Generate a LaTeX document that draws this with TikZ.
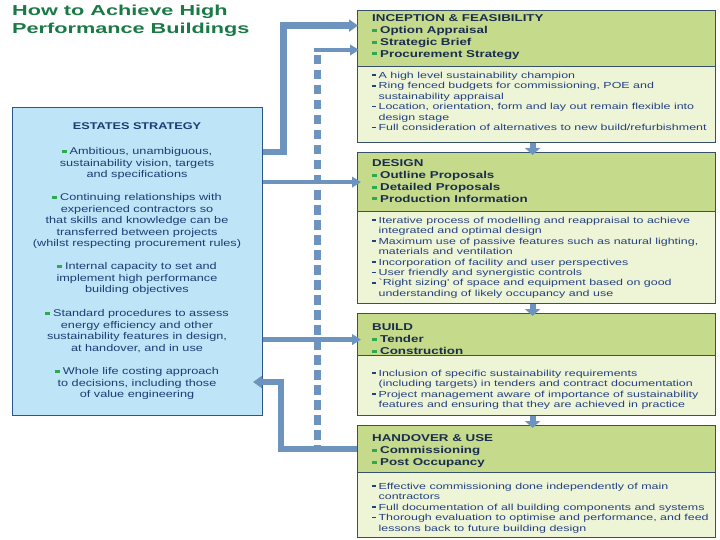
\documentclass[tikz,border=0pt]{standalone}
\usepackage{fontspec}
\setmainfont{Liberation Sans}[FakeStretch=1.3]
\newfontfamily\hdrfont{Liberation Sans}[FakeStretch=1.34]
\newfontfamily\bodyfont{Liberation Sans}[FakeStretch=1.42]
\newfontfamily\titlefont{Liberation Sans}[FakeStretch=1.5]
\usetikzlibrary{arrows.meta}
\definecolor{titlegreen}{RGB}{26,122,70}
\definecolor{stratfill}{RGB}{190,228,248}
\definecolor{stratborder}{RGB}{45,85,135}
\definecolor{strattext}{RGB}{30,60,115}
\definecolor{hdrfill}{RGB}{198,218,140}
\definecolor{bdyfill}{RGB}{238,244,214}
\definecolor{boxborder}{RGB}{55,80,105}
\definecolor{conncol}{RGB}{108,148,190}
\definecolor{hdrtext}{RGB}{25,45,80}
\definecolor{bodytext}{RGB}{35,65,130}
\definecolor{bullgreen}{RGB}{45,170,80}
\newcommand{\gb}{\textcolor{bullgreen}{\rule[0.22em]{0.5em}{0.3em}}\hspace{0.3em}}
\newcommand{\bb}{\rule[0.24em]{0.38em}{0.2em}\hspace{0.35em}}
\newcommand{\bi}{\hspace*{0.73em}}
\tikzset{
  stratbox/.style={draw=stratborder, line width=1.3bp, fill=stratfill, anchor=north west,
    minimum width=250bp, minimum height=308bp, inner sep=0},
  hdrbox/.style={draw=boxborder, line width=1.2bp, fill=hdrfill, anchor=north west,
    minimum width=358bp, inner sep=0},
  bdybox/.style={draw=boxborder, line width=1.2bp, fill=bdyfill, anchor=north west,
    minimum width=358bp, inner sep=0},
  lefttext/.style={font=\fontsize{9.8}{11.5}\selectfont, text=strattext, align=center,
    inner sep=0, anchor=north},
  hdrtextstyle/.style={font=\hdrfont\bfseries\fontsize{10}{12}\selectfont, text=hdrtext,
    align=left, inner sep=0, anchor=north west},
  bodytextstyle/.style={font=\bodyfont\fontsize{8.8}{10.5}\selectfont, text=bodytext,
    align=left, inner sep=0, anchor=north west},
  titletext/.style={font=\titlefont\bfseries\fontsize{14.5}{18}\selectfont, text=titlegreen,
    align=left, inner sep=0, anchor=north west},
  connthick/.style={draw=conncol, line width=6.5bp, -{Triangle[width=12bp,length=9bp]}},
  connthin/.style={draw=conncol, line width=4.5bp, -{Triangle[width=10.5bp,length=9bp]}},
  dashconn/.style={draw=conncol, line width=7bp, dash pattern=on 9.5bp off 5.5bp},
  downarr/.style={draw=conncol, line width=6bp, -{Triangle[width=15bp,length=7bp]}},
}
\begin{document}
\begin{tikzpicture}[x=1bp,y=-1bp]
\useasboundingbox (0,0) rectangle (720,540);

% title
\node[titletext] (title) at (12,1) {\rule{0pt}{14bp}How to Achieve High\\Performance Buildings};

% left box
\node[stratbox] (strategy) at (12,107) {};
\node[lefttext] (s0) at (137,120.6) {\rule{0pt}{9bp}\textbf{ESTATES STRATEGY}};
\node[lefttext] (s1) at (137,145.5) {\rule{0pt}{9bp}\gb Ambitious, unambiguous,\\sustainability vision, targets\\and specifications};
\node[lefttext] (s2) at (137,191.5) {\rule{0pt}{9bp}\gb Continuing relationships with\\experienced contractors so\\that skills and knowledge can be\\transferred between projects\\(whilst respecting procurement rules)};
\node[lefttext] (s3) at (137,260.5) {\rule{0pt}{9bp}\gb Internal capacity to set and\\implement high performance\\building objectives};
\node[lefttext] (s4) at (137,307.5) {\rule{0pt}{9bp}\gb Standard procedures to assess\\energy efficiency and other\\sustainability features in design,\\at handover, and in use};
\node[lefttext] (s5) at (137,365.5) {\rule{0pt}{9bp}\gb Whole life costing approach\\to decisions, including those\\of value engineering};

% right boxes
\node[hdrbox, minimum height=56bp] (b1head) at (357,10) {};
\node[bdybox, minimum height=76bp] (b1body) at (357,66) {};
\node[hdrbox, minimum height=59bp] (b2head) at (357,152) {};
\node[bdybox, minimum height=92bp] (b2body) at (357,211) {};
\node[hdrbox, minimum height=42bp] (b3head) at (357,313) {};
\node[bdybox, minimum height=60bp] (b3body) at (357,355) {};
\node[hdrbox, minimum height=47bp] (b4head) at (357,425) {};
\node[bdybox, minimum height=65bp] (b4body) at (357,472) {};

\node[hdrtextstyle] (h1) at (372,12.6) {\rule{0pt}{9bp}INCEPTION \& FEASIBILITY\\\gb Option Appraisal\\\gb Strategic Brief\\\gb Procurement Strategy};
\node[bodytextstyle] (t1) at (372,69) {\rule{0pt}{9bp}\bb A high level sustainability champion\\
\bb Ring fenced budgets for commissioning, POE and\\
\bi sustainability appraisal\\
\bb Location, orientation, form and lay out remain flexible into\\
\bi design stage\\
\bb Full consideration of alternatives to new build/refurbishment};

\node[hdrtextstyle] (h2) at (372,157.6) {\rule{0pt}{9bp}DESIGN\\\gb Outline Proposals\\\gb Detailed Proposals\\\gb Production Information};
\node[bodytextstyle] (t2) at (372,214) {\rule{0pt}{9bp}\bb Iterative process of modelling and reappraisal to achieve\\
\bi integrated and optimal design\\
\bb Maximum use of passive features such as natural lighting,\\
\bi materials and ventilation\\
\bb Incorporation of facility and user perspectives\\
\bb User friendly and synergistic controls\\
\bb `Right sizing' of space and equipment based on good\\
\bi understanding of likely occupancy and use};

\node[hdrtextstyle] (h3) at (372,321.6) {\rule{0pt}{9bp}BUILD\\\gb Tender\\\gb Construction};
\node[bodytextstyle] (t3) at (372,367) {\rule{0pt}{9bp}\bb Inclusion of specific sustainability requirements\\
\bi (including targets) in tenders and contract documentation\\
\bb Project management aware of importance of sustainability\\
\bi features and ensuring that they are achieved in practice};

\node[hdrtextstyle] (h4) at (372,432.6) {\rule{0pt}{9bp}HANDOVER \& USE\\\gb Commissioning\\\gb Post Occupancy};
\node[bodytextstyle] (t4) at (372,480) {\rule{0pt}{9bp}\bb Effective commissioning done independently of main\\
\bi contractors\\
\bb Full documentation of all building components and systems\\
\bb Thorough evaluation to optimise and performance, and feed\\
\bi lessons back to future building design};

% coordinates
\coordinate (c1in) at ([yshift=13bp]b1head.west);
\coordinate (loopt) at (317,50);
\coordinate (loopb) at (317,448);
\coordinate (c3in) at ([yshift=-5bp]b3head.west);
\coordinate (retcorner) at (281,382);
\coordinate (retend) at (253,382);

% connectors
\draw[dashconn] ([yshift=-5bp]loopt) -- (loopb);
\draw[connthin] ([xshift=-3.5bp]loopt) -- ([xshift=2bp]loopt -| b1head.west);
\draw[connthick] ([yshift=-45bp]strategy.north east) -- ++(20,0) |- ([xshift=1bp]c1in);
\draw[connthin] (b2head.west -| strategy.east) -- ([xshift=4bp]b2head.west);
\draw[connthin] (c3in -| strategy.east) -- ([xshift=4bp]c3in);
\draw[connthick] (b4head.west) -| (retcorner) -- (retend);

\draw[downarr] ([xshift=-4bp]b1body.south) -- ([xshift=-4bp,yshift=-3bp]b2head.north);
\draw[downarr] ([xshift=-4bp]b2body.south) -- ([xshift=-4bp,yshift=-3bp]b3head.north);
\draw[downarr] ([xshift=-4bp]b3body.south) -- ([xshift=-4bp,yshift=-3bp]b4head.north);
\end{tikzpicture}
\end{document}
